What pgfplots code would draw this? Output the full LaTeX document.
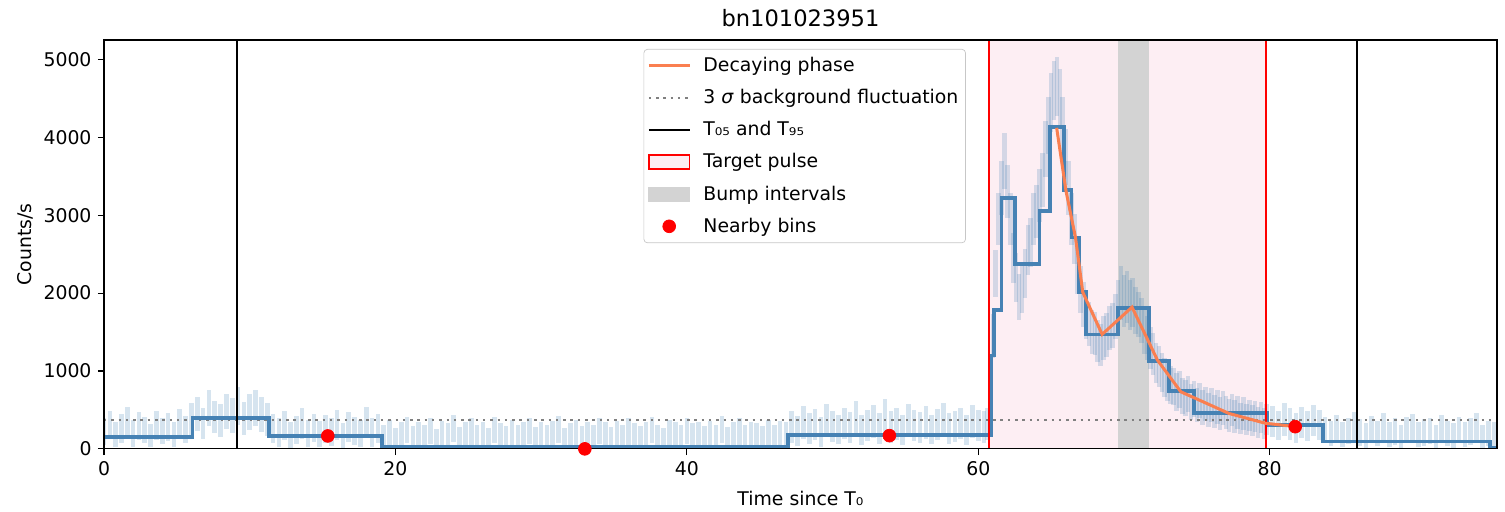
\documentclass[border=0pt]{standalone}
\usepackage{fontspec}
\setmainfont{DejaVu Sans}
\usepackage{pgfplots}
\pgfplotsset{compat=1.18}

\definecolor{steel}{RGB}{70,130,180}
\definecolor{orangeline}{RGB}{250,127,80}
\definecolor{pulsepink}{RGB}{253,238,243}
\definecolor{bumpgray}{RGB}{211,211,211}

\newcommand{\basefont}{\fontsize{10.6}{12.7}\selectfont}

\pgfplotsset{
  legdecay/.style={legend image code/.code={\draw[orangeline, line width=1.6pt] (0pt,0pt) -- (22.9pt,0pt);}},
  legsigma/.style={legend image code/.code={\draw[gray, line width=1.5pt, dash pattern=on 1.4pt off 2.7pt] (0pt,0pt) -- (22.9pt,0pt);}},
  legtt/.style={legend image code/.code={\draw[black, line width=0.85pt] (0pt,0pt) -- (22.9pt,0pt);}},
  legpulse/.style={legend image code/.code={\draw[sharp corners, red, fill=pulsepink, line width=0.8pt] (0pt,-3.9pt) rectangle (22.9pt,3.9pt);}},
  legbump/.style={legend image code/.code={\fill[sharp corners, bumpgray] (0pt,-3.9pt) rectangle (22.9pt,3.9pt);}},
  legdot/.style={legend image code/.code={\fill[red] (11.45pt,0pt) circle (3.6pt);}},
}

\begin{document}
\begin{tikzpicture}
\begin{axis}[
  name=ax,
  scale only axis,
  width=783.6pt, height=230pt,
  xmin=0, xmax=95.6, ymin=0, ymax=5250,
  xtick={0,20,40,60,80},
  ytick={0,1000,2000,3000,4000,5000},
  tick align=outside, tick pos=left,
  major tick length=3.5pt,
  tick style={black, line width=0.6pt},
  axis line style={line width=0.6pt},
  /pgf/number format/assume math mode=true,
  /pgf/number format/1000 sep={},
  ticklabel style={font=\basefont},
  label style={font=\basefont},
  axis on top,
  title={bn101023951},
  title style={at={(axis description cs:0.5,1.008)}, anchor=base, font=\fontsize{12.7}{15}\selectfont},
  xlabel={Time since T₀},
  xlabel style={at={(axis description cs:0.5,-0.139)}, anchor=base},
  ylabel={Counts/s},
  ylabel style={at={(axis description cs:-0.0523,0.5)}, anchor=base, rotate=0},
  legend style={at={(axis description cs:0.503,0.978)}, anchor=north,
    draw=black!22, rounded corners=2pt, fill=white, font=\basefont,
    inner xsep=2pt, inner ysep=2.5pt, row sep=4.5pt,
    /tikz/every odd column/.append style={column sep=5pt}},
  legend cell align=left,
]
\addlegendimage{legdecay}
\addlegendentry{Decaying phase}
\addlegendimage{legsigma}
\addlegendentry{3 \textit{σ} background fluctuation}
\addlegendimage{legtt}
\addlegendentry{T₀₅ and T₉₅}
\addlegendimage{legpulse}
\addlegendentry{Target pulse}
\addlegendimage{legbump}
\addlegendentry{Bump intervals}
\addlegendimage{legdot}
\addlegendentry{Nearby bins}

% target pulse and bump interval
\addplot[fill=pulsepink, draw=none, forget plot] coordinates {(60.77,5250) (79.77,5250)} \closedcycle;
\addplot[fill=bumpgray, draw=none, forget plot] coordinates {(69.6,5250) (71.7,5250)} \closedcycle;

% light curve with errors
\addplot[draw=none, forget plot,
  error bars/.cd, y dir=both, y explicit, error mark=none,
  error bar style={line width=2.6pt, steel, opacity=0.22}]
table[row sep=\\, x=x, y=y, y error=e] {
x y e\\
0 220 170\\ 0.4 310 180\\ 0.8 180 160\\ 1.2 260 190\\ 1.6 340 200\\ 2.0 200 170\\
2.4 290 180\\ 2.8 240 170\\ 3.2 170 150\\ 3.6 300 190\\ 4.0 230 170\\ 4.4 280 180\\
4.8 190 160\\ 5.2 320 190\\ 5.6 250 170\\
6.0 380 210\\ 6.4 450 220\\ 6.8 330 200\\ 7.2 520 230\\ 7.6 410 210\\ 8.0 360 210\\
8.4 480 220\\ 8.8 430 220\\ 9.2 550 240\\ 9.6 390 210\\ 10.0 470 230\\ 10.4 520 230\\
10.8 440 220\\ 11.2 380 210\\
11.6 260 190\\ 12.0 210 180\\ 12.4 300 190\\ 12.8 180 170\\ 13.2 240 180\\ 13.6 330 200\\
14.0 200 170\\ 14.4 270 180\\ 14.8 190 170\\ 15.2 250 180\\ 15.6 220 180\\ 16.0 310 190\\
16.4 170 160\\ 16.8 280 190\\ 17.2 230 180\\ 17.6 200 170\\ 18.0 340 200\\ 18.4 210 180\\
18.8 260 190\\
19.2 150 150\\ 19.6 210 160\\ 20.0 120 150\\ 20.4 180 160\\ 20.8 240 170\\ 21.2 140 150\\
21.6 190 160\\ 22.0 160 150\\ 22.4 230 170\\ 22.8 110 140\\ 23.2 200 160\\ 23.6 170 160\\
24.0 260 170\\ 24.4 130 150\\ 24.8 180 160\\ 25.2 220 170\\ 25.6 150 150\\ 26.0 190 160\\
26.4 120 150\\ 26.8 240 170\\ 27.2 170 160\\ 27.6 140 150\\ 28.0 210 160\\ 28.4 160 150\\
28.8 190 160\\ 29.2 230 170\\ 29.6 130 150\\ 30.0 180 160\\ 30.4 150 150\\ 30.8 200 160\\
31.2 250 170\\ 31.6 120 150\\ 32.0 170 160\\ 32.4 210 160\\ 32.8 140 150\\ 33.2 190 160\\
33.6 160 150\\ 34.0 230 170\\ 34.4 180 160\\ 34.8 130 150\\ 35.2 200 160\\ 35.6 150 150\\
36.0 220 170\\ 36.4 170 160\\ 36.8 140 150\\ 37.2 190 160\\ 37.6 240 170\\ 38.0 160 150\\
38.4 120 150\\ 38.8 210 160\\ 39.2 180 160\\ 39.6 150 150\\ 40.0 230 170\\ 40.4 170 160\\
40.8 190 160\\ 41.2 140 150\\ 41.6 200 160\\ 42.0 160 150\\ 42.4 250 170\\ 42.8 130 150\\
43.2 180 160\\ 43.6 220 170\\ 44.0 150 150\\ 44.4 190 160\\ 44.8 170 160\\ 45.2 140 150\\
45.6 210 160\\ 46.0 160 150\\ 46.4 200 160\\ 46.8 180 160\\
47.2 280 200\\ 47.6 230 190\\ 48.0 340 210\\ 48.4 260 200\\ 48.8 310 200\\ 49.2 220 190\\
49.6 370 210\\ 50.0 290 200\\ 50.4 250 190\\ 50.8 330 200\\ 51.2 270 200\\ 51.6 390 220\\
52.0 240 190\\ 52.4 300 200\\ 52.8 350 210\\ 53.2 260 200\\ 53.6 420 220\\ 54.0 280 200\\
54.4 320 200\\ 54.8 240 190\\ 55.2 360 210\\ 55.6 300 200\\ 56.0 270 200\\ 56.4 340 210\\
56.8 250 190\\ 57.2 310 200\\ 57.6 380 210\\ 58.0 260 200\\ 58.4 290 200\\ 58.8 330 200\\
59.2 240 190\\ 59.6 350 210\\ 60.0 300 200\\ 60.4 280 200\\
60.6 320 200\\ 60.8 850 250\\ 61.0 1450 280\\ 61.2 2250 300\\ 61.4 2950 330\\ 61.6 3350 350\\
61.8 3700 360\\ 62.0 3300 340\\ 62.2 2950 330\\ 62.4 2450 320\\ 62.6 2200 310\\ 62.8 1950 300\\
63.0 2050 300\\ 63.2 2250 310\\ 63.4 2550 320\\ 63.6 2650 320\\ 63.8 2950 330\\ 64.0 3050 340\\
64.2 3250 340\\ 64.4 3450 350\\ 64.6 3850 360\\ 64.8 4150 370\\ 65.0 4450 380\\ 65.2 4600 380\\
65.4 4650 380\\ 65.6 4500 380\\ 65.8 4150 370\\ 66.0 3750 360\\ 66.2 3350 350\\ 66.4 2950 330\\
66.6 2700 320\\ 66.8 2300 310\\ 67.0 2050 300\\ 67.2 1850 290\\ 67.4 1700 290\\ 67.6 1600 280\\
67.8 1500 280\\ 68.0 1480 280\\ 68.2 1380 270\\ 68.4 1330 270\\ 68.6 1420 280\\ 68.8 1460 280\\
69.0 1550 280\\ 69.2 1580 290\\ 69.4 1700 290\\ 69.6 1850 320\\ 69.8 2000 350\\ 70.0 1900 330\\
70.2 1950 340\\ 70.4 1850 320\\ 70.6 1880 320\\ 70.8 1780 300\\ 71.0 1720 290\\ 71.2 1650 290\\
71.4 1500 280\\ 71.6 1420 280\\ 71.8 1300 270\\ 72.0 1220 270\\ 72.2 1100 260\\ 72.4 1060 260\\
72.6 980 250\\ 72.8 920 250\\ 73.0 860 250\\ 73.2 820 240\\ 73.4 800 240\\ 73.6 730 240\\
73.8 760 240\\ 74.0 680 230\\ 74.2 650 230\\ 74.4 700 230\\ 74.6 600 230\\ 74.8 640 230\\
75.0 560 220\\ 75.2 620 230\\ 75.4 530 220\\ 75.6 580 220\\ 75.8 500 220\\ 76.0 560 220\\
76.2 480 210\\ 76.4 540 220\\ 76.6 450 210\\ 76.8 520 220\\ 77.0 470 210\\ 77.2 430 210\\
77.4 500 210\\ 77.6 420 210\\ 77.8 470 210\\ 78.0 390 200\\ 78.2 450 210\\ 78.4 380 200\\
78.6 430 200\\ 78.8 360 200\\ 79.0 420 200\\ 79.2 340 200\\ 79.4 400 200\\ 79.6 330 200\\
79.8 380 200\\
80.2 350 200\\ 80.6 300 190\\ 81.0 380 210\\ 81.4 320 200\\ 81.8 270 190\\ 82.2 340 200\\
82.6 290 190\\ 83.0 360 200\\ 83.4 310 190\\
83.8 240 170\\ 84.2 200 160\\ 84.6 260 180\\ 85.0 180 160\\ 85.4 230 170\\ 85.8 290 180\\
86.2 210 170\\ 86.6 170 160\\ 87.0 250 170\\ 87.4 200 160\\ 87.8 280 180\\ 88.2 190 160\\
88.6 220 170\\ 89.0 160 150\\ 89.4 240 170\\ 89.8 270 180\\ 90.2 180 160\\ 90.6 210 170\\
91.0 230 170\\ 91.4 150 150\\ 91.8 260 180\\ 92.2 200 160\\ 92.6 170 160\\ 93.0 240 170\\
93.4 190 160\\ 93.8 220 170\\ 94.2 280 180\\ 94.6 150 150\\ 95.0 200 160\\ 95.4 180 160\\
};

% 3 sigma background level
\addplot[gray, line width=1.5pt, dash pattern=on 1.4pt off 2.7pt, forget plot]
  coordinates {(0,371) (95.6,371)};

% Bayesian blocks
\addplot[steel, line width=2.1pt, const plot, forget plot] coordinates {
 (0,157) (6.08,400) (11.3,166) (19.1,30) (46.96,175) (60.85,1200) (61.1,1780)
 (61.6,3220) (62.5,2375) (64.2,3055) (64.9,4130) (65.9,3320) (66.4,2715)
 (66.9,2010) (67.4,1470) (69.6,1810) (71.7,1130) (73.1,740) (74.8,465)
 (79.8,307) (83.65,95) (95.1,15) (95.6,15)
};

% target pulse edges
\addplot[red, line width=1.1pt, forget plot] coordinates {(60.74,0) (60.74,5250)};
\addplot[red, line width=1.1pt, forget plot] coordinates {(79.77,0) (79.77,5250)};

% T05 and T95
\addplot[black, line width=0.85pt, forget plot] coordinates {(9.12,0) (9.12,5250)};
\addplot[black, line width=0.85pt, forget plot] coordinates {(86.0,0) (86.0,5250)};

% decaying phase
\addplot[orangeline, line width=1.7pt, forget plot] coordinates {
 (65.38,4122) (66.02,3312) (66.67,2715) (67.17,2012) (68.5,1470) (70.55,1820)
 (72.3,1138) (73.9,733) (77.2,455) (79.7,329) (81.8,285)
};

% nearby bins
\addplot[only marks, mark=*, mark size=3.6pt, red, forget plot] coordinates {
 (15.36,166) (33.0,0) (53.9,170) (81.75,285)
};
\end{axis}
\pgfresetboundingbox
\path ([shift={(-58.5pt,-35.4pt)}]ax.south west) rectangle ([shift={(4.5pt,22.5pt)}]ax.north east);
\end{tikzpicture}
\end{document}
